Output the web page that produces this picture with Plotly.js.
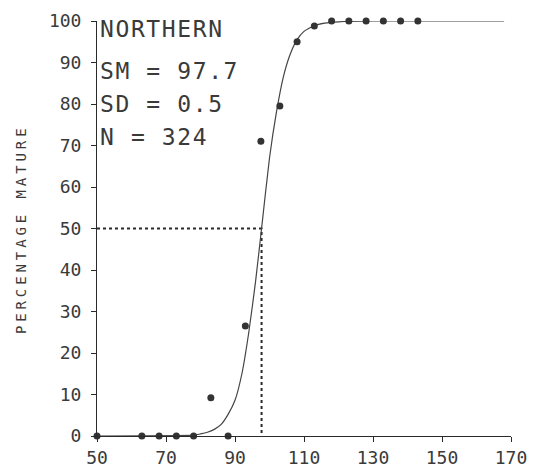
<!DOCTYPE html>
<html>
<head>
<meta charset="utf-8">
<script src="https://cdn.plot.ly/plotly-3.0.1.min.js"></script>
<style>
html,body{margin:0;padding:0;background:#fff;}
#chart{width:537px;height:467px;}
.annotation-text{letter-spacing:1.6px;}
.annotation[data-index="4"] .annotation-text{letter-spacing:3.9px;}
</style>
</head>
<body>
<div id="chart"></div>
<script>
// Observed data points (length class midpoint, percentage mature)
const lengthClasses = [50, 63, 68, 73, 78, 83, 88, 93, 97.5, 103, 108, 113, 118, 123, 128, 133, 138, 143];
const pctMature    = [0, 0, 0, 0, 0, 9.2, 0, 26.5, 71, 79.5, 95, 98.8, 100, 100, 100, 100, 100, 100];

// Fitted maturity curve
const curveX = [50, 78, 80, 82, 84, 86, 88, 90, 92, 94, 96, 97.7, 100, 102, 104, 106, 108, 110, 113, 116, 120, 130, 168];
const curveY = [0, 0.2, 0.5, 0.9, 1.6, 2.8, 5.2, 8.6, 15, 25, 37.5, 50, 67, 78, 86.5, 92, 95.5, 97.5, 98.9, 99.5, 99.8, 100, 100];

// Statistics
const regionName = "NORTHERN";
const SM = 97.7;
const SD = 0.5;
const N = 324;
const halfLevel = 50;
const xStart = 50;
const yTitle = "PERCENTAGE MATURE";

const xTicks = [50, 70, 90, 110, 130, 150, 170];
const yTicks = [0, 10, 20, 30, 40, 50, 60, 70, 80, 90, 100];

const ink = '#2a2a2a';
const tickFont = {family: 'DejaVu Sans Mono', size: 18, color: '#3a3a3a'};

const traces = [
  {
    x: [xStart, SM, SM], y: [halfLevel, halfLevel, 0],
    mode: 'lines', line: {color: ink, width: 2, dash: 'dot'},
    hoverinfo: 'skip', showlegend: false
  },
  {
    x: curveX, y: curveY, mode: 'lines',
    line: {color: '#444', width: 1.2, shape: 'spline', smoothing: 0.5},
    showlegend: false
  },
  {
    x: lengthClasses, y: pctMature, mode: 'markers',
    marker: {color: '#333', size: 7}, cliponaxis: false, showlegend: false
  }
];

const annFont = {family: 'DejaVu Sans Mono', size: 23, color: '#3a3a3a'};
const annX = 50.3;
const layout = {
  width: 537, height: 467,
  margin: {l: 96.7, r: 26.3, t: 21, b: 31.3},
  paper_bgcolor: '#fff', plot_bgcolor: '#fff',
  showlegend: false,
  xaxis: {
    range: [50, 170], tickvals: xTicks, ticktext: xTicks.map(String),
    showgrid: false, zeroline: false, showline: true, linecolor: ink, linewidth: 1,
    ticks: 'outside', ticklen: 5, tickcolor: ink, tickfont: tickFont
  },
  yaxis: {
    range: [0, 100], tickvals: yTicks, ticktext: yTicks.map(String),
    showgrid: false, zeroline: false, showline: true, linecolor: ink, linewidth: 1,
    ticks: 'outside', ticklen: 5, tickcolor: ink, tickfont: tickFont,
    ticklabelstandoff: 6
  },
  annotations: [
    {text: regionName, x: annX, y: 98.1, xref: 'x', yref: 'y', xanchor: 'left', yanchor: 'middle', showarrow: false, font: annFont},
    {text: 'SM = ' + SM.toFixed(1), x: annX, y: 88.0, xref: 'x', yref: 'y', xanchor: 'left', yanchor: 'middle', showarrow: false, font: annFont},
    {text: 'SD = ' + SD.toFixed(1), x: annX, y: 80.1, xref: 'x', yref: 'y', xanchor: 'left', yanchor: 'middle', showarrow: false, font: annFont},
    {text: 'N = ' + N, x: annX, y: 72.1, xref: 'x', yref: 'y', xanchor: 'left', yanchor: 'middle', showarrow: false, font: annFont},
    {text: yTitle, x: -0.183, y: 49.8, xref: 'paper', yref: 'y', xanchor: 'center', yanchor: 'middle', textangle: -90, showarrow: false,
     font: {family: 'DejaVu Sans Mono', size: 14, color: '#3a3a3a'}}
  ]
};

Plotly.newPlot('chart', traces, layout, {displayModeBar: false, staticPlot: true});
</script>
</body>
</html>
